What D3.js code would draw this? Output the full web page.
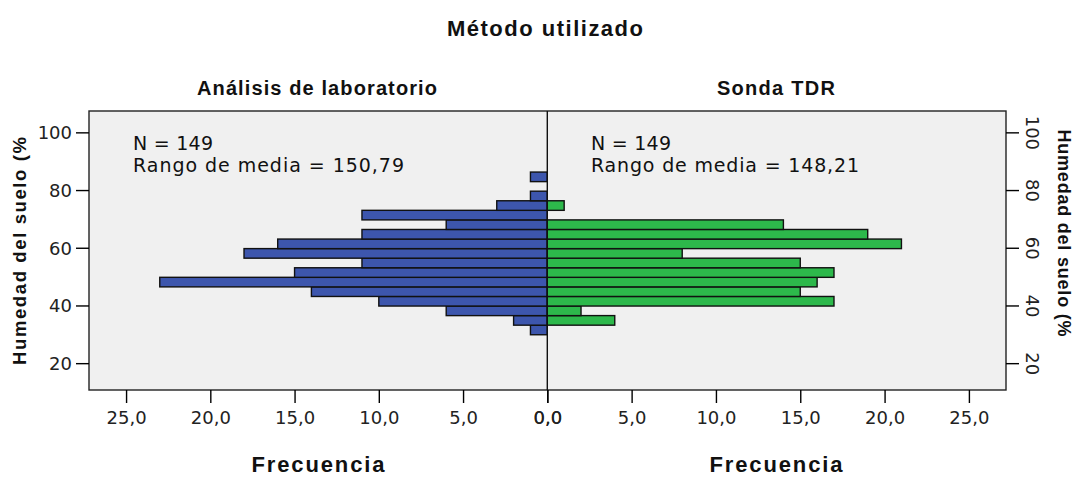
<!DOCTYPE html>
<html>
<head>
<meta charset="utf-8">
<script src="https://cdn.jsdelivr.net/npm/d3@7"></script>
<style>
	body { margin: 0; background: #fff; }
	svg { display: block; }
	.axis text { font-family: "DejaVu Sans", sans-serif; font-size: 18px; fill: #222; }
	.axis path, .axis line { stroke: #000; stroke-width: 1.4px; }
</style>
</head>
<body>
<div id="app"></div>
<script>
// lower edge of each moisture bin (%), bins are 3.317 wide
const binLower = [29.85, 33.17, 36.48, 39.80, 43.12, 46.44, 49.75, 53.07, 56.39,
	59.70, 63.02, 66.34, 69.66, 72.97, 76.29, 79.61, 82.92];
const binWidth = 3.317;

// frequencies per bin, bottom to top
const labCounts = [1, 2, 6, 10, 14, 23, 15, 11, 18, 16, 11, 6, 11, 3, 1, 0, 1];
const tdrCounts = [0, 4, 2, 17, 15, 16, 17, 15, 8, 21, 19, 14, 0, 1, 0, 0, 0];

const groups = ['Análisis de laboratorio', 'Sonda TDR'];
const groupStats = [['N = 149', 'Rango de media = 150,79'], ['N = 149', 'Rango de media = 148,21']];
const yTicks = [20, 40, 60, 80, 100];
const xTicks = [0, 5, 10, 15, 20, 25];

const width = 1074,
	height = 477;

const frame = { left: 89, right: 1006, top: 111, bottom: 390 },
	mid = 547.3;

const svg = d3.select('#app').append('svg')
	.attr('width', width)
	.attr('height', height);

const yScale = d3.scaleLinear()
	.domain([10.7, 107.4])
	.range([frame.bottom, frame.top]);

const xLeft = d3.scaleLinear()
	.domain([0, 27.2])
	.range([mid, frame.left]);

const xRight = d3.scaleLinear()
	.domain([0, 27.2])
	.range([mid, frame.right]);

const fmt = d => d3.format('.1f')(d).replace('.', ',');

// plot background
svg.append('rect')
	.attr('x', frame.left)
	.attr('y', frame.top)
	.attr('width', frame.right - frame.left)
	.attr('height', frame.bottom - frame.top)
	.attr('fill', '#f0f0f0');

// bars
const drawBars = (counts, xScale, fill, side) => {
	svg.append('g').selectAll('rect')
		.data(counts.map((c, i) => ({ c, lo: binLower[i] })).filter(d => d.c > 0))
		.enter()
		.append('rect')
		.attr('x', d => side < 0 ? xScale(d.c) : mid)
		.attr('width', d => Math.abs(xScale(d.c) - mid))
		.attr('y', d => yScale(d.lo + binWidth))
		.attr('height', d => yScale(d.lo) - yScale(d.lo + binWidth))
		.attr('fill', fill)
		.attr('stroke', '#111')
		.attr('stroke-width', 1.4);
};
drawBars(labCounts, xLeft, '#3d56ad', -1);
drawBars(tdrCounts, xRight, '#2db84b', 1);

// frame and centre line
svg.append('rect')
	.attr('x', frame.left)
	.attr('y', frame.top)
	.attr('width', frame.right - frame.left)
	.attr('height', frame.bottom - frame.top)
	.attr('fill', 'none')
	.attr('stroke', '#222')
	.attr('stroke-width', 1.4);
svg.append('line')
	.attr('x1', mid).attr('x2', mid)
	.attr('y1', frame.top).attr('y2', frame.bottom)
	.attr('stroke', '#111')
	.attr('stroke-width', 1.4);

// axes
const yAxisL = svg.append('g')
	.classed('axis', true)
	.attr('transform', `translate(${ frame.left },0)`)
	.call(d3.axisLeft(yScale).tickValues(yTicks).tickSize(13).tickPadding(4));
yAxisL.select('.domain').remove();
yAxisL.selectAll('text').attr('dy', '0.36em');

const yAxisR = svg.append('g')
	.classed('axis', true)
	.attr('transform', `translate(${ frame.right },0)`)
	.call(d3.axisRight(yScale).tickValues(yTicks).tickSize(13).tickPadding(0));
yAxisR.select('.domain').remove();
yAxisR.selectAll('text')
	.attr('x', 0)
	.attr('dy', 0)
	.attr('text-anchor', 'middle')
	.attr('transform', 'translate(20,0) rotate(90)');

[xLeft, xRight].forEach(scale => {
	const ax = svg.append('g')
		.classed('axis', true)
		.attr('transform', `translate(0,${ frame.bottom })`)
		.call(d3.axisBottom(scale).tickValues(xTicks).tickFormat(fmt).tickSize(13).tickPadding(8));
	ax.select('.domain').remove();
	ax.selectAll('text').attr('dy', '0.71em');
});

// titles
const text = (x, y, str, opts) => {
	const t = svg.append('text')
		.attr('x', x)
		.attr('y', y)
		.attr('text-anchor', opts.anchor || 'middle')
		.attr('font-family', opts.family || '"Liberation Sans", Arial, sans-serif')
		.attr('font-size', opts.size)
		.attr('font-weight', opts.bold ? 'bold' : 'normal')
		.attr('fill', opts.fill || '#111')
		.text(str);
	if (opts.len) t.attr('textLength', opts.len).attr('lengthAdjust', 'spacing');
	if (opts.rotate) t.attr('transform', `rotate(${ opts.rotate },${ x },${ y })`);
	return t;
};

text(545, 36, 'Método utilizado', { size: 22, bold: true, len: 196 });
text(317, 95, groups[0], { size: 20, bold: true, len: 240 });
text(776, 95, groups[1], { size: 20, bold: true, len: 118 });

const statX = [133, 591];
groupStats.forEach((lines, i) => {
	text(statX[i], 150, lines[0], { size: 19, anchor: 'start', family: '"DejaVu Sans", sans-serif', len: 80 });
	text(statX[i], 172, lines[1], { size: 19, anchor: 'start', family: '"DejaVu Sans", sans-serif', len: i === 0 ? 271 : 268 });
});

text(318, 472, 'Frecuencia', { size: 22, bold: true, len: 133 });
text(776, 472, 'Frecuencia', { size: 22, bold: true, len: 133 });

text(25.5, 251, 'Humedad del suelo (%', { size: 18.5, bold: true, rotate: -90, len: 228 });
text(1058, 233, 'Humedad del suelo (%', { size: 18, bold: true, rotate: 90, len: 207 });
</script>
</body>
</html>
